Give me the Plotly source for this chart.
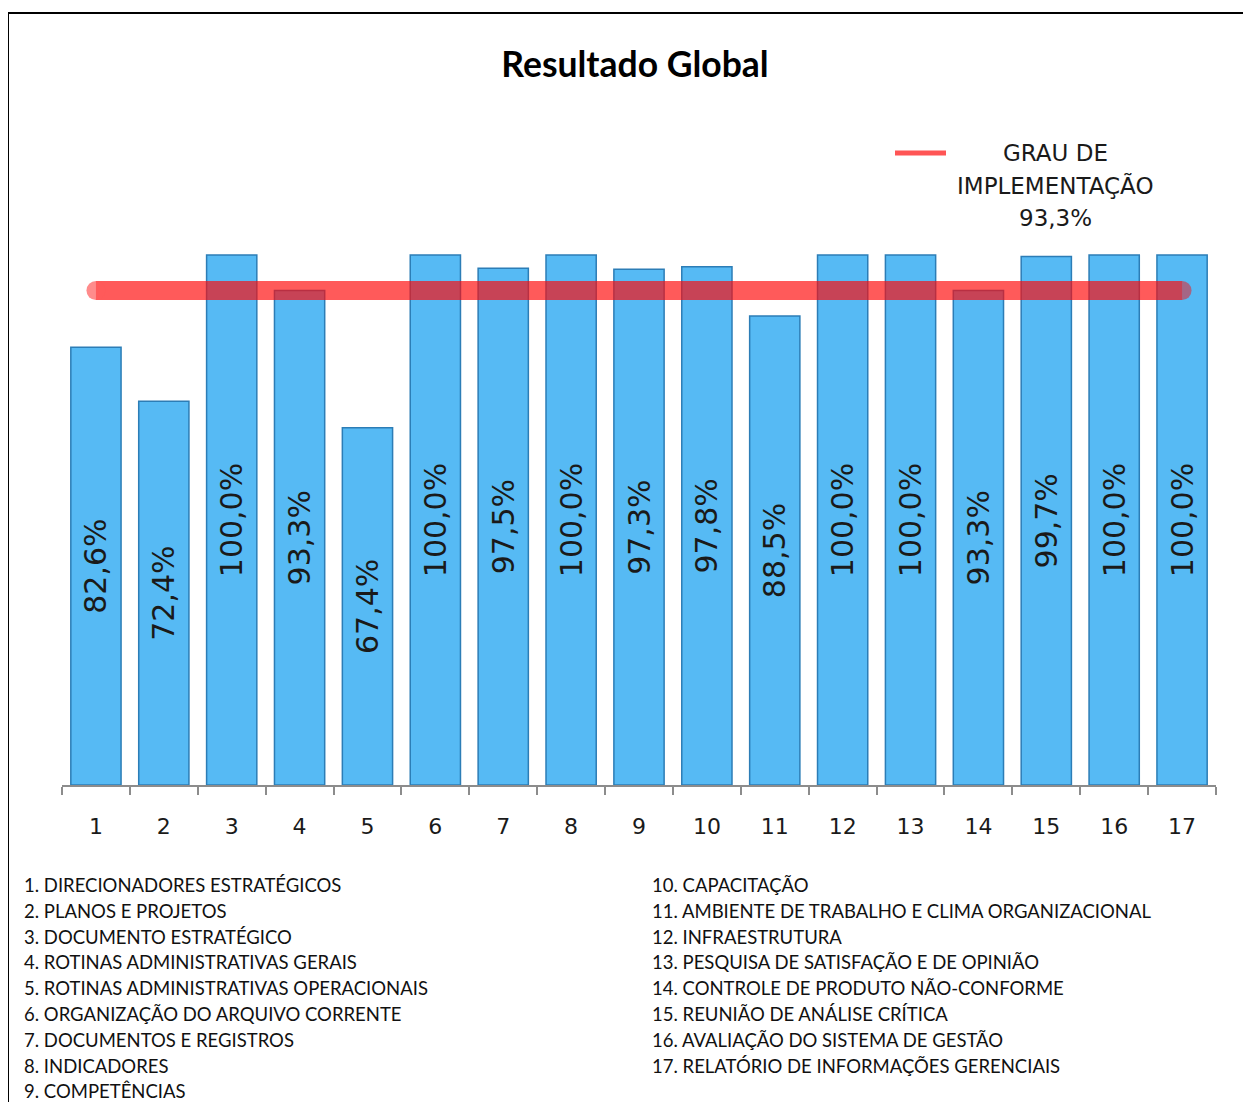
import plotly.graph_objects as go

categories = [str(i) for i in range(1, 18)]
values = [82.6, 72.4, 100.0, 93.3, 67.4, 100.0, 97.5, 100.0, 97.3, 97.8,
          88.5, 100.0, 100.0, 93.3, 99.7, 100.0, 100.0]
grau_implementacao = 93.3
item_names = [
    "DIRECIONADORES ESTRATÉGICOS",
    "PLANOS E PROJETOS",
    "DOCUMENTO ESTRATÉGICO",
    "ROTINAS ADMINISTRATIVAS GERAIS",
    "ROTINAS ADMINISTRATIVAS OPERACIONAIS",
    "ORGANIZAÇÃO DO ARQUIVO CORRENTE",
    "DOCUMENTOS E REGISTROS",
    "INDICADORES",
    "COMPETÊNCIAS",
    "CAPACITAÇÃO",
    "AMBIENTE DE TRABALHO E CLIMA ORGANIZACIONAL",
    "INFRAESTRUTURA",
    "PESQUISA DE SATISFAÇÃO E DE OPINIÃO",
    "CONTROLE DE PRODUTO NÃO-CONFORME",
    "REUNIÃO DE ANÁLISE CRÍTICA",
    "AVALIAÇÃO DO SISTEMA DE GESTÃO",
    "RELATÓRIO DE INFORMAÇÕES GERENCIAIS",
]

def fmt(v):
    return f"{v:.1f}".replace(".", ",") + "%"

# page body has an 8px margin: figure coords = screen coords - 8
OFF = 8
W, H = 1251 - OFF, 1102 - OFF
PLOT_L, PLOT_R, PLOT_T, PLOT_B = 62, 1216, 100, 785  # screen px
L = PLOT_L - OFF
R = W - (PLOT_R - OFF)
T = PLOT_T - OFF
B = H - (PLOT_B - OFF)
PW, PH = W - L - R, H - T - B

def px_x(px):
    return (px - OFF - L) / PW

def px_y(py):
    return (H - B - (py - OFF)) / PH

fig = go.Figure()
fig.add_trace(go.Bar(
    x=categories, y=values,
    text=[fmt(v) for v in values],
    textposition="inside", insidetextanchor="middle", textangle=-90,
    textfont=dict(family="DejaVu Sans", size=30, color="#1a1a1a"),
    marker=dict(color="#56BAF4", line=dict(color="#2C7DB6", width=1.5)),
    showlegend=False, cliponaxis=False,
))
n = len(categories)
fig.add_trace(go.Scatter(
    x=categories, y=[grau_implementacao] * n,
    mode="lines+markers",
    line=dict(color="#FF0A0A", width=19),
    marker=dict(color="#FF0A0A", size=[19] + [0] * (n - 2) + [19], line=dict(width=0)),
    opacity=0.67, showlegend=False, hoverinfo="skip",
))

# legend (sample line + centered text)
fig.add_shape(type="line", xref="paper", yref="paper",
              x0=px_x(895), x1=px_x(946), y0=px_y(153), y1=px_y(153),
              line=dict(color="#FF5555", width=5))
legend_lines = ["GRAU DE", "IMPLEMENTAÇÃO", fmt(grau_implementacao)]
for i, t in enumerate(legend_lines):
    fig.add_annotation(text=t, xref="paper", yref="paper",
                       x=px_x(1055), y=px_y(153 + 32.5 * i),
                       xanchor="center", yanchor="middle", showarrow=False,
                       font=dict(family="DejaVu Sans", size=23, color="#1a1a1a"))

# item list
for i, name in enumerate(item_names):
    col = 0 if i < 9 else 1
    row = i if i < 9 else i - 9
    fig.add_annotation(text=f"{i + 1}. {name}", xref="paper", yref="paper",
                       x=px_x(22 if col == 0 else 650), y=px_y(885 + 25.8 * row),
                       xanchor="left", yanchor="middle", showarrow=False,
                       font=dict(family="Lato", size=18.5, color="#111111"))

# frame
fig.add_shape(type="rect", xref="paper", yref="paper",
              x0=px_x(8), x1=px_x(1300), y0=px_y(13), y1=px_y(1150),
              line=dict(color="black", width=2), layer="below")

fig.update_layout(
    width=W, height=H,
    margin=dict(l=L, r=R, t=T, b=B),
    paper_bgcolor="white", plot_bgcolor="white",
    bargap=0.26,
    title=dict(text="<b>Resultado Global</b>", x=px_x(635) * PW / W + L / W,
               xanchor="center", y=1 - (65 - OFF) / H, yanchor="middle",
               font=dict(family="Lato", size=35.5, color="black")),
    xaxis=dict(range=[-0.5, n - 0.5],
               showline=True, linecolor="#8C8C8C", linewidth=2,
               ticks="outside", ticklen=8, tickwidth=2, tickcolor="#8C8C8C",
               tickson="boundaries", ticklabelstandoff=21,
               tickfont=dict(family="DejaVu Sans", size=22, color="#1a1a1a"),
               showgrid=False, zeroline=False),
    yaxis=dict(range=[0, 100 * PH / 530], visible=False, showgrid=False),
)

fig.write_html("out.html")
